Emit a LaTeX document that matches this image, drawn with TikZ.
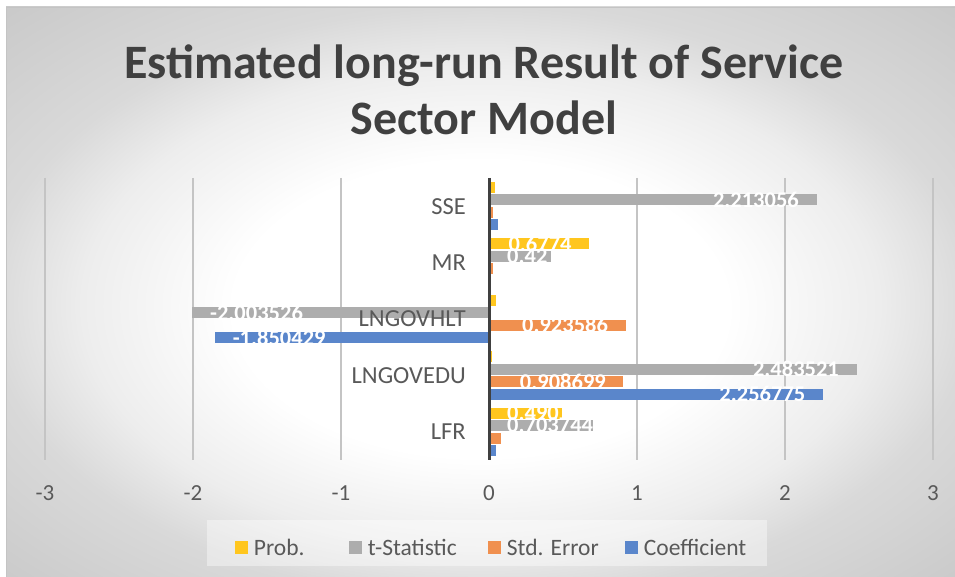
\documentclass[tikz,border=0pt]{standalone}
\usepackage{fontspec}
\setmainfont{Carlito}
\usetikzlibrary{positioning}
\definecolor{probclr}{HTML}{FFC61E}
\definecolor{tstatclr}{HTML}{ADADAD}
\definecolor{stderrclr}{HTML}{F0904F}
\definecolor{coefclr}{HTML}{5A86CB}
\definecolor{inkdark}{HTML}{404040}
\definecolor{inkgrey}{HTML}{595959}
\definecolor{gridclr}{HTML}{C4C4C4}
\definecolor{bgedge}{HTML}{C9C9C9}
\definecolor{bgmid}{HTML}{D9D9D9}
\definecolor{bglight}{HTML}{EDEDED}
\pgfdeclareradialshading{chartglow}{\pgfpoint{0bp}{-2bp}}{color(0bp)=(white); color(13bp)=(white); color(21bp)=(bglight); color(26bp)=(bgmid); color(36bp)=(bgedge); color(50bp)=(bgedge)}

\begin{document}
\begin{tikzpicture}[
    x=1pt, y=-1pt,
    every node/.style={inner sep=0pt},
    title/.style={font=\fontsize{48}{56}\selectfont\bfseries, text=inkdark, anchor=base},
    catlbl/.style={font=\fontsize{24.5}{27}\selectfont, text=inkgrey, anchor=east},
    ticklbl/.style={font=\fontsize{23}{26}\selectfont, text=inkgrey},
    keytxt/.style={font=\fontsize{23.5}{26}\selectfont, text=inkgrey, right=6pt},
    keybox/.style={minimum size=13pt},
    vallbl/.style={font=\fontsize{22.5}{24}\selectfont\bfseries, text=white},
    atend/.style={vallbl, anchor=east, xshift=-17.5pt},
    atneg/.style={vallbl, anchor=west, xshift=17.5pt},
    atbase/.style={vallbl, anchor=west, xshift=18pt},
    gridln/.style={draw=gridclr, line width=1.2pt},
    axisln/.style={draw=inkdark, line width=3pt},
    probbar/.style={fill=probclr},
    tstatbar/.style={fill=tstatclr},
    stderrbar/.style={fill=stderrclr},
    coefbar/.style={fill=coefclr},
]
\useasboundingbox (0,0) rectangle (955,577);
% chart area
\fill[white] (0,0) rectangle (955,577);
\shade[shading=chartglow, draw=gridclr, line width=0.8pt] (6,7) rectangle (955,577);

% title
\node[title] (title1) at (484,79) {Estimated long-run Result of Service};
\node[title] (title2) at (484,135) {Sector Model};

% value axis: 1 unit = 148px, zero at x=489
\begin{scope}[shift={(489,0)}, x=148pt]
  \draw[gridln] (-3,178) -- (-3,460);
  \draw[gridln] (-2,178) -- (-2,460);
  \draw[gridln] (-1,178) -- (-1,460);
  \draw[gridln] (1,178) -- (1,460);
  \draw[gridln] (2,178) -- (2,460);
  \draw[gridln] (3,178) -- (3,460);

  \node[ticklbl] (tk-3) at (-3,493) {-3};
  \node[ticklbl] (tk-2) at (-2,493) {-2};
  \node[ticklbl] (tk-1) at (-1,493) {-1};
  \node[ticklbl] (tk0)  at (0,493)  {0};
  \node[ticklbl] (tk1)  at (1,493)  {1};
  \node[ticklbl] (tk2)  at (2,493)  {2};
  \node[ticklbl] (tk3)  at (3,493)  {3};

  % SSE
  \begin{scope}[shift={(0,206.2)}]
    \fill[probbar]   (0,-24.1) rectangle (0.04,-13.1);
    \fill[tstatbar]  (0,-11.7) rectangle (2.213056,-0.7);
    \node[atend] (sse-t) at (2.213056,-6.2) {2.213056};
    \fill[stderrbar] (0,0.7) rectangle (0.027,11.7);
    \fill[coefbar]   (0,13.1) rectangle (0.06,24.1);
  \end{scope}
  % MR
  \begin{scope}[shift={(0,262.6)}]
    \fill[probbar]   (0,-24.1) rectangle (0.6774,-13.1);
    \node[atend] (mr-p) at (0.6774,-18.6) {0.6774};
    \fill[tstatbar]  (0,-11.7) rectangle (0.42,-0.7);
    \node[atbase] (mr-t) at (0,-6.2) {0.42};
    \fill[stderrbar] (0,0.7) rectangle (0.025,11.7);
  \end{scope}
  % LNGOVHLT
  \begin{scope}[shift={(0,319)}]
    \fill[probbar]   (0,-24.1) rectangle (0.05,-13.1);
    \fill[tstatbar]  (0,-11.7) rectangle (-2.003526,-0.7);
    \node[atneg] (hlt-t) at (-2.003526,-6.2) {-2.003526};
    \fill[stderrbar] (0,0.7) rectangle (0.923586,11.7);
    \node[atend] (hlt-se) at (0.923586,6.2) {0.923586};
    \fill[coefbar]   (0,13.1) rectangle (-1.850429,24.1);
    \node[atneg] (hlt-c) at (-1.850429,18.6) {-1.850429};
  \end{scope}
  % LNGOVEDU
  \begin{scope}[shift={(0,375.4)}]
    \fill[probbar]   (0,-24.1) rectangle (0.02,-13.1);
    \fill[tstatbar]  (0,-11.7) rectangle (2.483521,-0.7);
    \node[atend] (edu-t) at (2.483521,-6.2) {2.483521};
    \fill[stderrbar] (0,0.7) rectangle (0.908699,11.7);
    \node[atend] (edu-se) at (0.908699,6.2) {0.908699};
    \fill[coefbar]   (0,13.1) rectangle (2.256775,24.1);
    \node[atend] (edu-c) at (2.256775,18.6) {2.256775};
  \end{scope}
  % LFR
  \begin{scope}[shift={(0,431.8)}]
    \fill[probbar]   (0,-24.1) rectangle (0.49,-13.1);
    \node[atbase] (lfr-p) at (0,-18.6) {0.490};
    \fill[tstatbar]  (0,-11.7) rectangle (0.703744,-0.7);
    \node[atbase] (lfr-t) at (0,-6.2) {0.703744};
    \fill[stderrbar] (0,0.7) rectangle (0.08,11.7);
    \fill[coefbar]   (0,13.1) rectangle (0.05,24.1);
  \end{scope}

  \draw[axisln] (0,178) -- (0,460);
\end{scope}

% category labels
\node[catlbl] (cat-sse) at (466,206.2) {SSE};
\node[catlbl] (cat-mr)  at (466,262.6) {MR};
\node[catlbl] (cat-hlt) at (466,319)   {LNGOVHLT};
\node[catlbl] (cat-edu) at (466,375.4) {LNGOVEDU};
\node[catlbl] (cat-lfr) at (466,431.8) {LFR};

% legend
\fill[white, fill opacity=0.4] (207,520) rectangle (767,566);
\node[keybox, fill=probclr]   (key-p)  at (241,547) {};
\node[keytxt] (keytxt-p)  [right=6pt of key-p]  {Prob.};
\node[keybox, fill=tstatclr]  (key-t)  at (355,547) {};
\node[keytxt] (keytxt-t)  [right=6pt of key-t]  {t-Statistic};
\node[keybox, fill=stderrclr] (key-se) at (494,547) {};
\node[keytxt] (keytxt-se) [right=6pt of key-se] {Std. Error};
\node[keybox, fill=coefclr]   (key-c)  at (631,547) {};
\node[keytxt] (keytxt-c)  [right=6pt of key-c]  {Coefficient};
\end{tikzpicture}
\end{document}
